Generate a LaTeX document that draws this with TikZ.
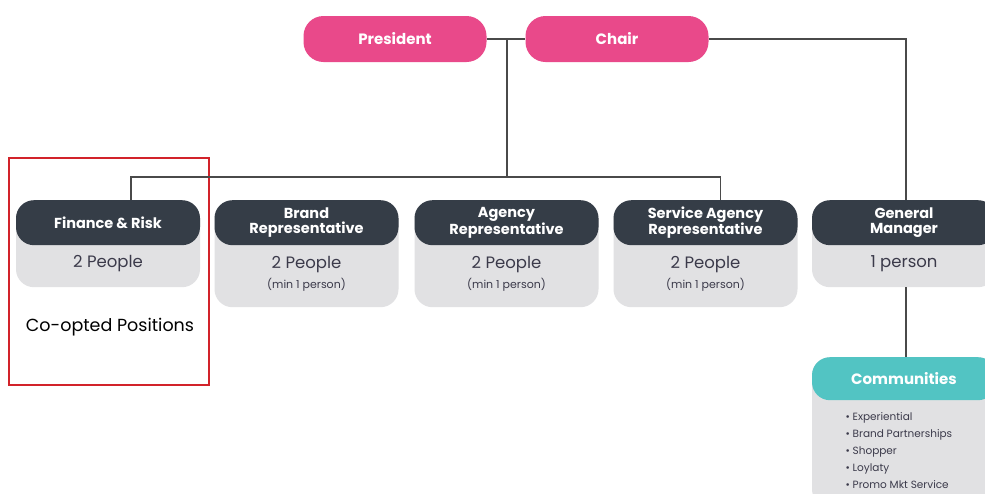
\documentclass[tikz,border=0pt]{standalone}
\usepackage{fontspec}
\setmainfont{Poppins}
\definecolor{pinkhd}{HTML}{E9498A}
\definecolor{darkhd}{HTML}{353D47}
\definecolor{greybd}{HTML}{E1E1E3}
\definecolor{tealhd}{HTML}{52C4C3}
\definecolor{linkln}{HTML}{4A4A4A}
\definecolor{bodytx}{HTML}{3B3A4A}
\definecolor{redbox}{HTML}{D2232A}
\tikzset{
  pill/.style={fill=pinkhd, rounded corners=20pt, minimum width=183pt, minimum height=46pt, text=white, font=\bfseries\fontsize{15}{17}\selectfont},
  cardbody/.style={fill=greybd, rounded corners=18pt, minimum width=184pt, anchor=north},
  cardhead/.style={fill=darkhd, rounded corners=18pt, minimum width=184pt, minimum height=45pt, anchor=north, text=white, align=center, font=\bfseries\fontsize{14.5}{15.5}\selectfont},
  maintx/.style={text=bodytx, font=\fontsize{16.5}{18}\selectfont},
  subtx/.style={text=bodytx, font=\fontsize{11}{12}\selectfont},
  link/.style={draw=linkln, line width=1.6pt},
}
\begin{document}
\begin{tikzpicture}[x=1pt,y=-1pt]
\clip (0,0) rectangle (985,493);
\fill[white] (0,0) rectangle (985,493);
\node[pill] (pres) at (395,39) {President};
\node[pill] (chair) at (617,39) {Chair};
\node[cardbody, minimum height=87pt] (fin) at (108,200) {};
\node[cardhead] (finhd) at (108,200) {Finance \& Risk};
\node[maintx] (finmain) at (108,264) {2 People};
\node[cardbody, minimum height=107pt] (brand) at (306.5,200) {};
\node[cardhead] (brandhd) at (306.5,200) {Brand\\Representative};
\node[maintx] (brandmain) at (306.5,265) {2 People};
\node[subtx] (brandsub) at (306.5,285) {(min 1 person)};
\node[cardbody, minimum height=107pt] (agency) at (506.5,200) {};
\node[cardhead] (agencyhd) at (506.5,200) {Agency\\Representative};
\node[maintx] (agencymain) at (506.5,265) {2 People};
\node[subtx] (agencysub) at (506.5,285) {(min 1 person)};
\node[cardbody, minimum height=107pt] (svc) at (705.5,200) {};
\node[cardhead] (svchd) at (705.5,200) {Service Agency\\Representative};
\node[maintx] (svcmain) at (705.5,265) {2 People};
\node[subtx] (svcsub) at (705.5,285) {(min 1 person)};
\node[cardbody, minimum height=87pt] (gm) at (904,200) {};
\node[cardhead] (gmhd) at (904,200) {General\\Manager};
\node[maintx] (gmmain) at (904,264) {1 person};
\node[cardbody, minimum height=150pt] (comm) at (904,357) {};
\node[cardhead, fill=tealhd, minimum height=43pt, font=\bfseries\fontsize{15}{17}\selectfont] (commhd) at (904,357) {Communities};
\node[anchor=north west, align=left, text=bodytx, font=\fontsize{10.5}{17}\selectfont] (commlist) at (842,409)
  {• Experiential\\• Brand Partnerships\\• Shopper\\• Loylaty\\• Promo Mkt Service};
\node[draw=redbox, line width=2pt, minimum width=200pt, minimum height=227pt] (coopt) at (109,271.5) {};
\node[font=\fontsize{17.5}{20}\selectfont] (coopttx) at (110,327) {Co-opted Positions};
\coordinate (joint) at (507,39);
\coordinate (bar) at (507,177);
\draw[link] (pres) -- (chair);
\draw[link] (joint) -- (bar);
\draw[link] ([xshift=23pt]finhd.north) |- (bar) -| ([xshift=15pt]svchd.north);
\draw[link] (chair) -| ([xshift=2pt]gmhd.north);
\draw[link] ([xshift=2pt]gm.south) -- ([xshift=2pt]commhd.north);
\end{tikzpicture}
\end{document}
